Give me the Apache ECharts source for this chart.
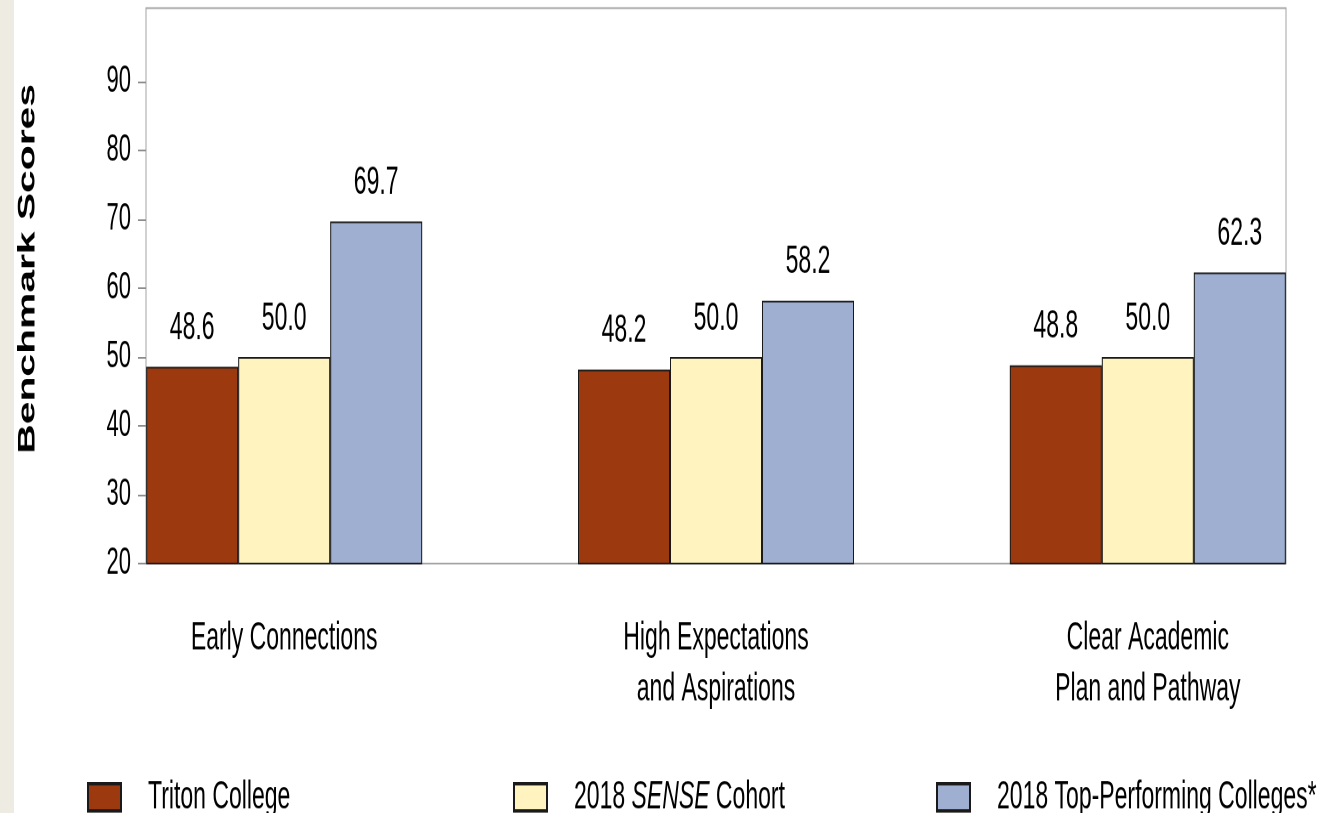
<!DOCTYPE html>
<html>
<head>
<meta charset="utf-8">
<script src="https://cdn.jsdelivr.net/npm/echarts@6/dist/echarts.min.js"></script>
<style>
  html, body { margin: 0; padding: 0; width: 1317px; height: 813px; overflow: hidden;
    background: linear-gradient(to right, #eeebe3 0px, #eeebe3 14px, #ffffff 14px); }
  #chart { position: absolute; left: 0; top: 0; width: 1317px; transform-origin: 0 0; }
</style>
</head>
<body>
<div id="chart"></div>
<script>
// ---- data ----
const categories = ['Early Connections', 'High Expectations\nand Aspirations', 'Clear Academic\nPlan and Pathway'];
const seriesNames = ['Triton College', '2018 SENSE Cohort', '2018 Top-Performing Colleges*'];
const tritonCollege = [48.6, 48.2, 48.8];
const senseCohort = [50.0, 50.0, 50.0];
const topPerforming = [69.7, 58.2, 62.3];
const yTickValues = [20, 30, 40, 50, 60, 70, 80, 90];
const yAxisTitle = 'Benchmark Scores';

// ---- layout (the source picture is stretched vertically) ----
const S = 1.7;
const H = 813 / S + 12;
const el = document.getElementById('chart');
el.style.height = H + 'px';
el.style.transform = 'scaleY(' + S + ')';

const FONT = "'Liberation Sans', Arial, sans-serif";
const colors = ['#9c390f', '#fff4bf', '#9fafd1'];
const seriesValues = [tritonCollege, senseCohort, topPerforming];
const catIdx = categories.map((c, i) => i);

const chart = echarts.init(el, null, { renderer: 'canvas', devicePixelRatio: 2 });

const series = seriesValues.map((vals, s) => ({
  name: seriesNames[s],
  type: 'bar',
  barWidth: 92,
  barGap: '0%',
  data: vals.map((v, i) => [catIdx[i], v]),
  itemStyle: { color: colors[s], borderColor: '#1a1a1a', borderWidth: 1 },
  label: {
    show: true, position: 'top', distance: 11,
    fontFamily: FONT, fontSize: 23, color: '#000',
    formatter: p => p.value[1].toFixed(1)
  }
}));

const legendLefts = [82, 508, 931];
const legends = seriesNames.map((n, s) => ({
  data: [n],
  left: legendLefts[s],
  top: 793 / S - 14,
  itemWidth: 33,
  itemHeight: 16,
  icon: 'rect',
  selectedMode: false,
  formatter: name => name.replace('SENSE', '{i|SENSE}'),
  textStyle: {
    fontFamily: FONT, fontSize: 23, color: '#000', padding: [0, 0, 0, 22],
    rich: { i: { fontFamily: FONT, fontSize: 23, fontStyle: 'italic', color: '#000' } }
  }
}));

chart.setOption({
  animation: false,
  grid: {
    left: 146, right: 31, top: 8 / S, bottom: H - 564 / S,
    show: true, borderColor: '#a3a3a3', borderWidth: 1, backgroundColor: '#fff'
  },
  legend: legends,
  xAxis: {
    type: 'value', min: -0.32, max: 2.32,
    splitLine: { show: false },
    axisLine: { show: false, onZero: false },
    axisTick: { show: false },
    axisLabel: {
      customValues: catIdx,
      formatter: v => categories[Math.round(v)],
      fontFamily: FONT, fontSize: 23, color: '#000', lineHeight: 30, margin: 29
    }
  },
  yAxis: {
    type: 'value', min: 20, max: 100.7, interval: 10,
    name: yAxisTitle, nameLocation: 'middle', nameGap: 106,
    nameTextStyle: { fontFamily: FONT, fontSize: 24, fontWeight: 'bold', color: '#000', padding: [0, 0, 0, 20] },
    splitLine: { show: false },
    axisLine: { show: false, onZero: false },
    axisTick: { show: true, customValues: yTickValues, length: 8, lineStyle: { color: '#8c8c8c', width: 1 } },
    axisLabel: { customValues: yTickValues, fontFamily: FONT, fontSize: 22, color: '#000', margin: 15 }
  },
  series: series
});
</script>
</body>
</html>
